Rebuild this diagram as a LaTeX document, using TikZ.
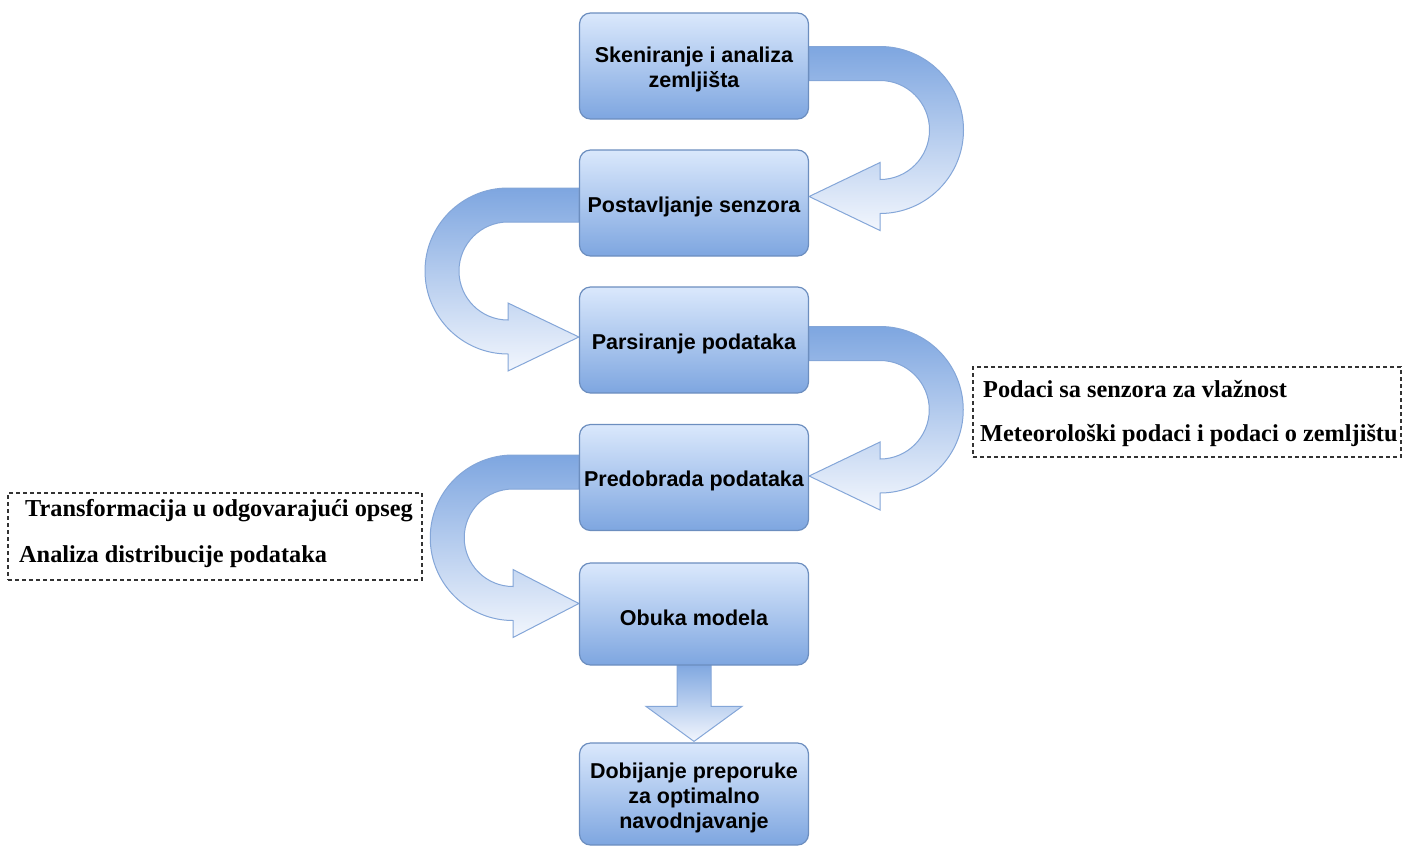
\documentclass[tikz,border=0pt]{standalone}
\usepackage{fontspec}
\setmainfont{Liberation Serif}
\setsansfont{Liberation Sans}
\usetikzlibrary{calc,backgrounds}
\definecolor{boxTop}{HTML}{DAE8FC}
\definecolor{boxBot}{HTML}{7EA6E0}
\definecolor{boxLine}{HTML}{6C8EBF}
\definecolor{arrTop}{HTML}{7EA6E0}
\definecolor{arrBot}{HTML}{F2F6FD}
\definecolor{arrLine}{HTML}{84A6D8}
\tikzset{
  stepbox/.style={draw=boxLine, line width=1.2pt, rounded corners=11pt,
    top color=boxTop, bottom color=boxBot, minimum width=229pt,
    minimum height=106pt, inner sep=0pt},
  steptext/.style={align=center, inner sep=0pt, yshift=-3.5pt,
    font=\sffamily\bfseries\fontsize{21.5}{25}\selectfont},
  uarrow/.style={draw=arrLine, line width=1pt, top color=arrTop, bottom color=arrBot},
  notebox/.style={draw=black!80, line width=1.2pt, dash pattern=on 4pt off 3pt, inner sep=0pt},
  notetext/.style={anchor=base west, inner sep=0pt,
    font=\rmfamily\bfseries\fontsize{24.3}{28}\selectfont},
}
\newcommand\rightU[5]{%
  \path[uarrow] let \p1=($(#1.east)+(0,#3)$), \p2=($(#2.east)+(0,#4)$),
    \n1={(\y1-\y2)/2} in
    (\x1,\y1+17pt) -- (#5,\y1+17pt)
    arc[start angle=90,end angle=-90,radius=\n1+17pt]
    -- (#5,\y2-34pt) -- (\p2) -- (#5,\y2+34pt) -- (#5,\y2+17pt)
    arc[start angle=-90,end angle=90,radius=\n1-17pt]
    -- (\x1,\y1-17pt) -- cycle;}
\newcommand\leftU[5]{%
  \path[uarrow] let \p1=($(#1.west)+(0,#3)$), \p2=($(#2.west)+(0,#4)$),
    \n1={(\y1-\y2)/2} in
    (\x1,\y1+17pt) -- (#5,\y1+17pt)
    arc[start angle=90,end angle=270,radius=\n1+17pt]
    -- (#5,\y2-34pt) -- (\p2) -- (#5,\y2+34pt) -- (#5,\y2+17pt)
    arc[start angle=270,end angle=90,radius=\n1-17pt]
    -- (\x1,\y1-17pt) -- cycle;}
\begin{document}
\begin{tikzpicture}[x=1pt,y=1pt]
\useasboundingbox (0,0) rectangle (1403,-847);
% step boxes
\node[stepbox] (b1) at (694,-66) {};
\node[stepbox] (b2) at (694,-203) {};
\node[stepbox] (b3) at (694,-340) {};
\node[stepbox] (b4) at (694,-477.5) {};
\node[stepbox, minimum height=102pt] (b5) at (694,-614) {};
\node[stepbox, minimum height=102pt] (b6) at (694,-794) {};
\node[steptext] (t1) at (b1) {Skeniranje i analiza\\zemljišta};
\node[steptext] (t2) at (b2) {Postavljanje senzora};
\node[steptext] (t3) at (b3) {Parsiranje podataka};
\node[steptext] (t4) at (b4) {Predobrada podataka};
\node[steptext] (t5) at (b5) {Obuka modela};
\node[steptext] (t6) at (b6) {Dobijanje preporuke\\za optimalno\\navodnjavanje};
% connectors (behind the boxes)
\begin{scope}[on background layer]
\rightU{b1}{b2}{2.5pt}{6.5pt}{880pt}
\leftU{b2}{b3}{-2pt}{3pt}{508pt}
\rightU{b3}{b4}{-3.5pt}{1.5pt}{880pt}
\leftU{b4}{b5}{5.5pt}{10.5pt}{513pt}
\path[uarrow] let \p1=(b5.south), \p2=(b6.north) in
  (\x1-17pt,\y1+2pt) -- (\x1-17pt,\y2+36pt) -- (\x1-48pt,\y2+36pt) -- (\x2,\y2+1pt)
  -- (\x1+48pt,\y2+36pt) -- (\x1+17pt,\y2+36pt) -- (\x1+17pt,\y1+2pt) -- cycle;
\end{scope}
% notes
\node[notebox, minimum width=428pt, minimum height=90pt] (noteR) at (1187,-412) {};
\node[notetext] (nr1) at (983,-397) {Podaci sa senzora za vlažnost};
\node[notetext] (nr2) at (980,-441) {Meteorološki podaci i podaci o zemljištu};
\node[notebox, minimum width=414pt, minimum height=87pt] (noteL) at (215,-536.5) {};
\node[notetext] (nl1) at (25,-516) {Transformacija u odgovarajući opseg};
\node[notetext] (nl2) at (19,-562) {Analiza distribucije podataka};
\end{tikzpicture}
\end{document}
